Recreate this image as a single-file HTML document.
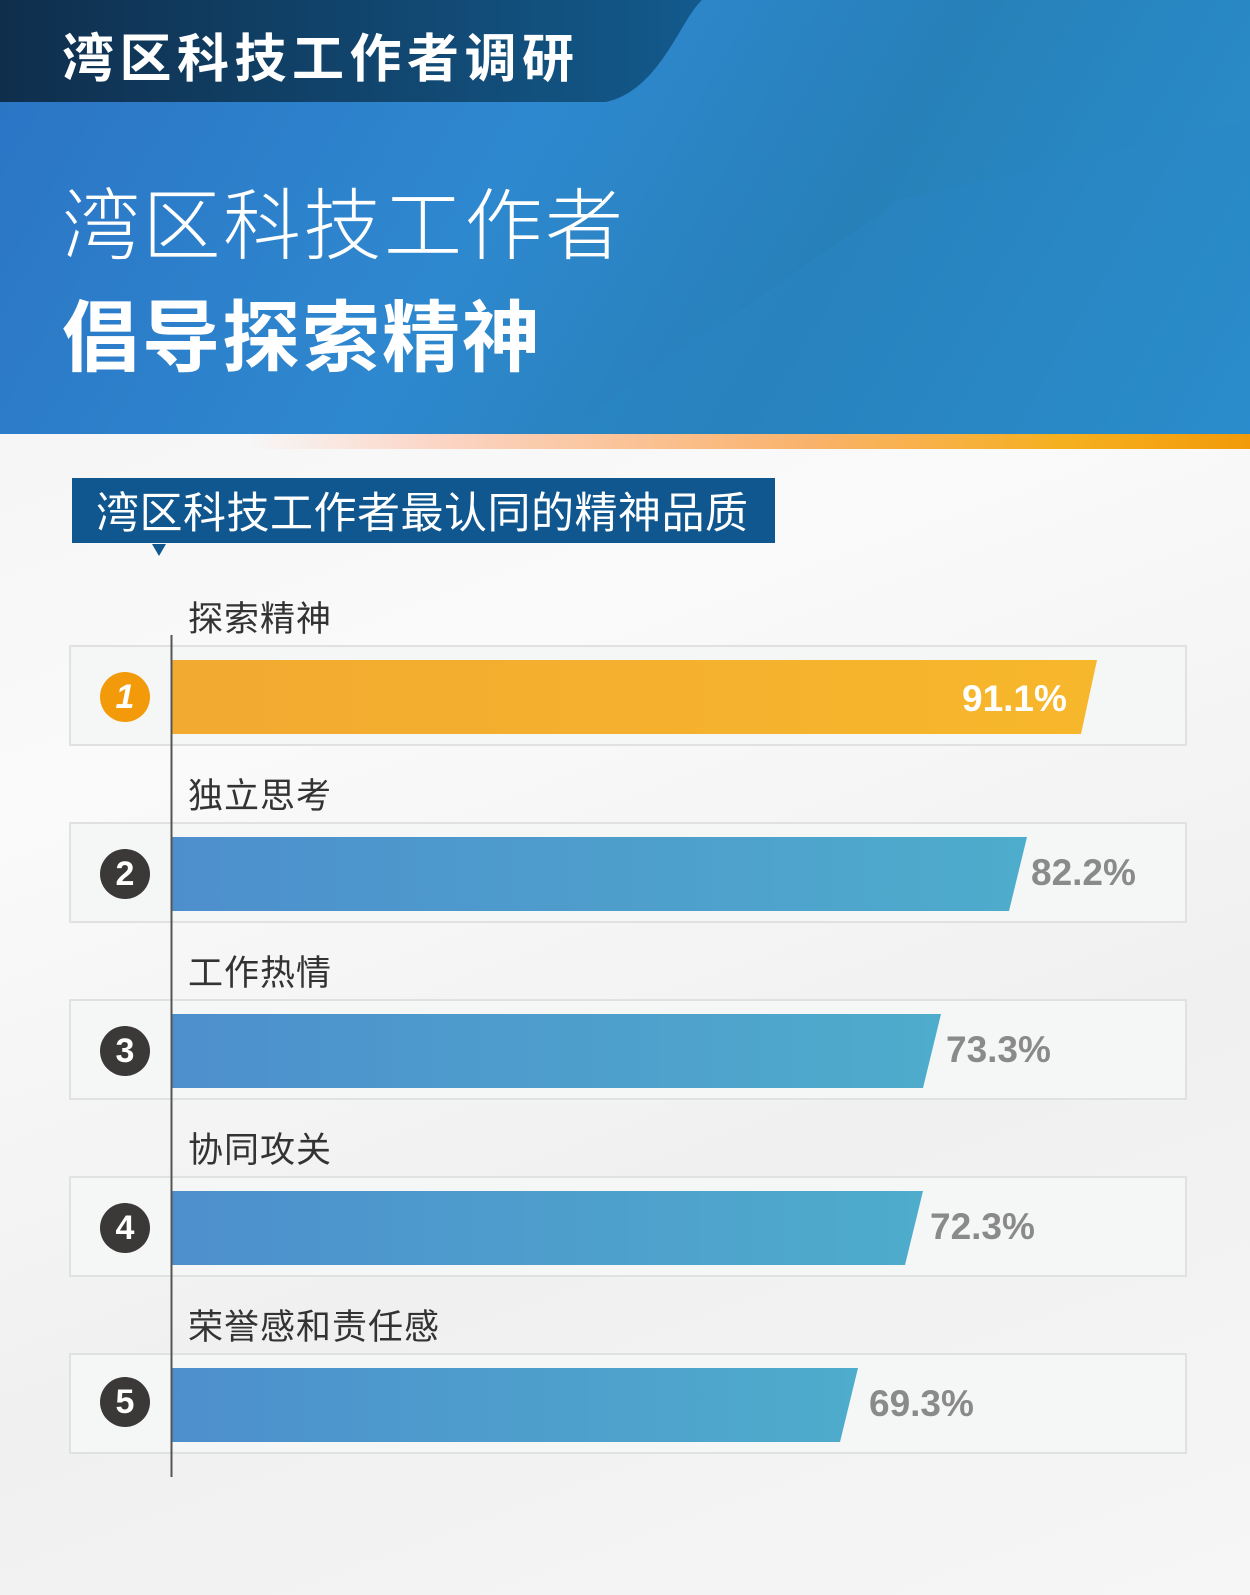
<!DOCTYPE html>
<html><head><meta charset="utf-8"><style>
*{margin:0;padding:0;box-sizing:border-box}
body{width:1250px;height:1595px;position:relative;overflow:hidden;background:linear-gradient(160deg,#f1f1f1,#fafafa 40%,#f0f0f0 70%,#f6f6f6);font-family:"Liberation Sans","Noto Sans CJK SC",sans-serif}
.hdr{position:absolute;left:0;top:0;width:1250px;height:434px;background:linear-gradient(120deg,#2b73c4 0%,#2e88cf 40%,#2780b8 65%,#2a90cf 100%)}
.or{position:absolute;left:0;top:434px;width:1250px;height:15px;background:linear-gradient(90deg,rgba(255,255,255,0) 20%,#fbd5c5 35%,#f9b26a 65%,#f5b020 85%,#f29a0a 100%)}
.t{position:absolute;color:#fff;white-space:nowrap}
.row{position:absolute;left:69px;width:1118px;height:101px;background:#f5f6f6;border:2px solid #e0e1e1}
.lab{position:absolute;left:188px;font-size:35px;letter-spacing:1px;color:#333;font-family:"Noto Sans CJK SC",sans-serif;line-height:44px}
.num{position:absolute;left:100px;width:50px;height:50px;border-radius:50%;background:#3b3838;color:#fff;font-weight:bold;font-size:34px;text-align:center;line-height:50px}
.val{position:absolute;font-size:37px;font-weight:bold;color:#8a8a8a}
</style></head><body>
<div class="hdr"></div>
<svg style="position:absolute;left:0;top:0" width="1250" height="434">
<polygon points="560,434 900,200 1250,120 1250,434" fill="#2a86c6" opacity="0.35"/>
<defs><linearGradient id="tg" x1="0" x2="1"><stop offset="0" stop-color="#0f2e4c"/><stop offset="1" stop-color="#135a8c"/></linearGradient></defs>
<path d="M0,0 H702 C680,20 660,90 606,102 H0 Z" fill="url(#tg)"/>
</svg>
<div class="or"></div>
<div class="t" style="left:62px;top:22px;font-size:52px;font-weight:bold;letter-spacing:5.5px;font-family:'Noto Sans CJK SC',sans-serif;line-height:66px">湾区科技工作者调研</div>
<div class="t" style="left:62px;top:170px;font-size:78px;font-weight:300;letter-spacing:2.5px;font-family:'Noto Sans CJK SC',sans-serif;line-height:100px">湾区科技工作者</div>
<div class="t" style="left:62px;top:282px;font-size:78px;font-weight:bold;letter-spacing:2px;font-family:'Noto Sans CJK SC',sans-serif;line-height:100px">倡导探索精神</div>
<div style="position:absolute;left:72px;top:478px;width:703px;height:65px;background:#10578f"></div>
<div class="t" style="left:96px;top:478px;font-size:43px;line-height:65px;letter-spacing:0.5px;font-family:'Noto Sans CJK SC',sans-serif">湾区科技工作者最认同的精神品质</div>
<div style="position:absolute;left:152px;top:544px;width:0;height:0;border-left:7px solid transparent;border-right:7px solid transparent;border-top:12px solid #10578f"></div>

<div class="row" style="top:645px"></div>
<div class="row" style="top:822px"></div>
<div class="row" style="top:999px"></div>
<div class="row" style="top:1176px"></div>
<div class="row" style="top:1353px"></div>

<svg style="position:absolute;left:0;top:0" width="1250" height="1595">
<defs>
<linearGradient id="og" x1="0" x2="1"><stop offset="0" stop-color="#f2aa30"/><stop offset="1" stop-color="#f7b72c"/></linearGradient>
<linearGradient id="bg" x1="0" x2="1"><stop offset="0" stop-color="#4d8fcd"/><stop offset="1" stop-color="#4eaccc"/></linearGradient>
</defs>
<polygon points="172,660 1097,660 1081,734 172,734" fill="url(#og)"/>
<polygon points="172,837 1027,837 1009,911 172,911" fill="url(#bg)"/>
<polygon points="172,1014 941,1014 923,1088 172,1088" fill="url(#bg)"/>
<polygon points="172,1191 923,1191 905,1265 172,1265" fill="url(#bg)"/>
<polygon points="172,1368 858,1368 840,1442 172,1442" fill="url(#bg)"/>
<line x1="171.5" y1="635" x2="171.5" y2="1477" stroke="#555" stroke-width="2"/>
</svg>

<div class="lab" style="top:595px">探索精神</div>
<div class="lab" style="top:772px">独立思考</div>
<div class="lab" style="top:949px">工作热情</div>
<div class="lab" style="top:1126px">协同攻关</div>
<div class="lab" style="top:1303px">荣誉感和责任感</div>

<div class="num" style="top:672px;background:#f39a0b;font-style:italic">1</div>
<div class="num" style="top:849px">2</div>
<div class="num" style="top:1026px">3</div>
<div class="num" style="top:1203px">4</div>
<div class="num" style="top:1377px">5</div>

<div class="val" style="left:962px;top:678px;color:#fff">91.1%</div>
<div class="val" style="left:1031px;top:852px">82.2%</div>
<div class="val" style="left:946px;top:1029px">73.3%</div>
<div class="val" style="left:930px;top:1206px">72.3%</div>
<div class="val" style="left:869px;top:1383px">69.3%</div>
</body></html>
